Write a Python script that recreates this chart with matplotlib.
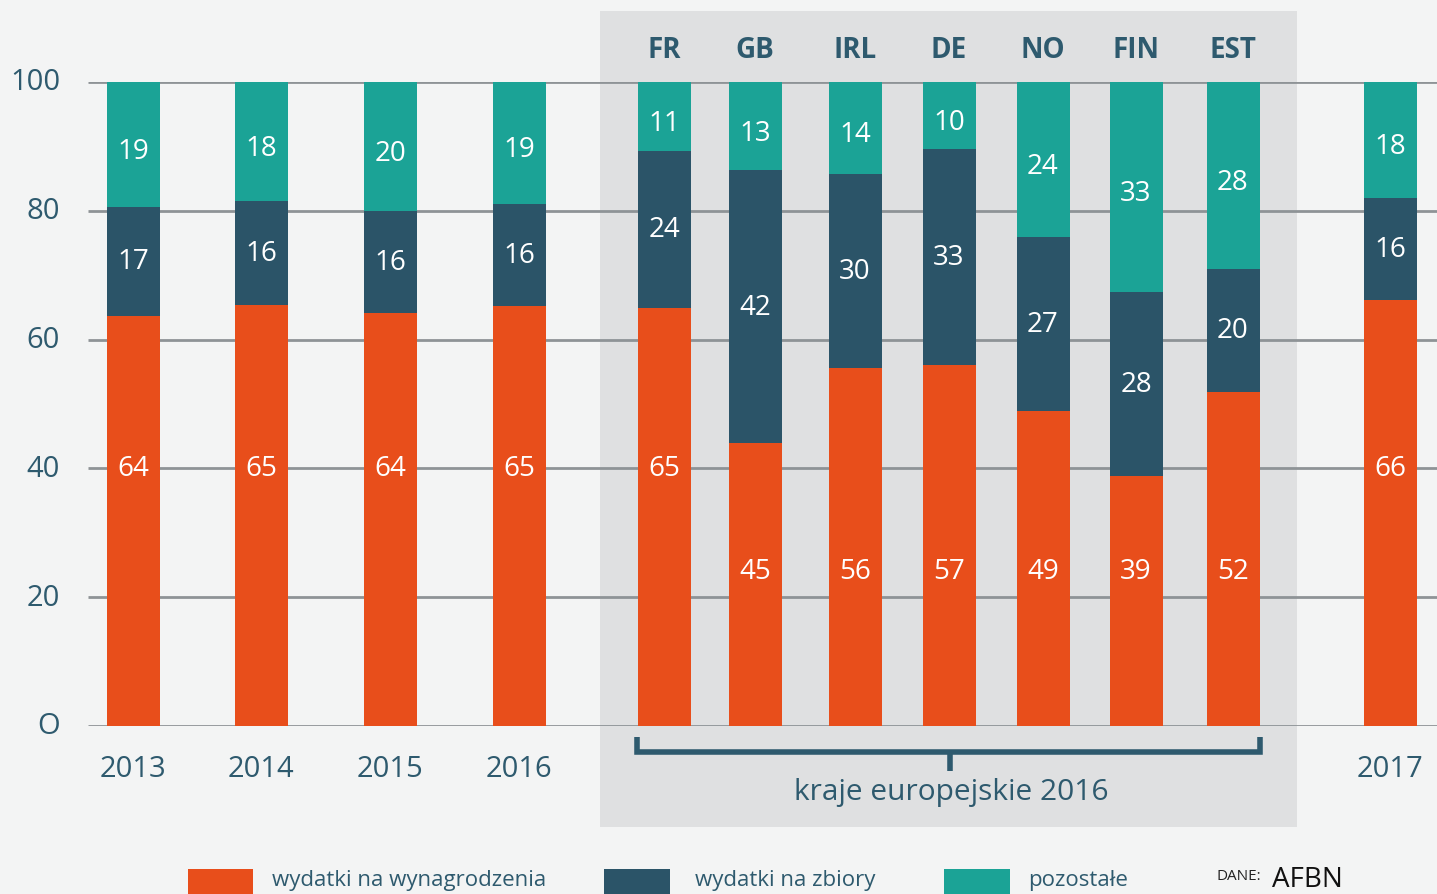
import matplotlib
matplotlib.use("Agg")
import matplotlib.pyplot as plt
from matplotlib.patches import Rectangle

# ---- data ----
categories = ["2013", "2014", "2015", "2016", "FR", "GB", "IRL", "DE", "NO", "FIN", "EST", "2017"]
# segment sizes as drawn in the picture (percent)
wynagrodzenia = [63.7, 65.4, 64.1, 65.2, 64.9, 43.9, 55.6, 56.1, 48.9, 38.8, 51.9, 66.1]
zbiory = [16.9, 16.1, 15.9, 15.9, 24.4, 42.4, 30.1, 33.5, 27.0, 28.6, 19.1, 15.9]
pozostale = [19.4, 18.5, 20.0, 18.9, 10.7, 13.7, 14.3, 10.4, 24.1, 32.6, 29.0, 18.0]
# values printed on the bars
wynagrodzenia_lab = [64, 65, 64, 65, 65, 45, 56, 57, 49, 39, 52, 66]
zbiory_lab = [17, 16, 16, 16, 24, 42, 30, 33, 27, 28, 20, 16]
pozostale_lab = [19, 18, 20, 19, 11, 13, 14, 10, 24, 33, 28, 18]
y_ticks = [0, 20, 40, 60, 80, 100]
y_tick_labels = ["O", "20", "40", "60", "80", "100"]
series_names = ["wydatki na wynagrodzenia", "wydatki na zbiory", "pozostałe"]

# ---- layout / style ----
W, H = 1437, 895
xpos = [133, 261, 390, 519, 664, 755, 855, 949, 1043, 1136, 1233, 1390]
bar_w = 53
C_OR = "#E84E1B"
C_DK = "#2B5468"
C_TL = "#1BA396"
C_TXT = "#2E5A6E"
FONT = ["Open Sans", "DejaVu Sans"]
plt.rcParams["font.family"] = FONT

fig = plt.figure(figsize=(W / 100, H / 100), dpi=100)
fig.patch.set_facecolor("#F3F4F4")

# background decoration axes (pixel coordinates)
bg = fig.add_axes([0, 0, 1, 1], zorder=0)
bg.set_xlim(0, W)
bg.set_ylim(H, 0)
bg.axis("off")
bg.add_patch(Rectangle((600, 12), 697, 816, facecolor="#DFE0E1", edgecolor="none"))

# main axes
y0px, y100px = 727, 83
ax = fig.add_axes([0, (H - y0px) / H, 1, (y0px - y100px) / H], zorder=1)
ax.set_facecolor("none")
ax.set_xlim(0, W)
ax.set_ylim(0, 100)
for s in ax.spines.values():
    s.set_visible(False)
ax.set_xticks([])
ax.set_yticks([])

for t, lab in zip(y_ticks, y_tick_labels):
    ax.plot([88, W], [t, t], color="#8E9396", lw=2, zorder=1, solid_capstyle="butt")
    ax.text(60, t, lab, ha="right", va="center", fontsize=21, color=C_TXT)

bottoms2 = wynagrodzenia
bottoms3 = [a + b for a, b in zip(wynagrodzenia, zbiory)]
ax.bar(xpos, wynagrodzenia, width=bar_w, color=C_OR, zorder=2)
ax.bar(xpos, zbiory, bottom=bottoms2, width=bar_w, color=C_DK, zorder=2)
ax.bar(xpos, pozostale, bottom=bottoms3, width=bar_w, color=C_TL, zorder=2)

lab_kw = dict(ha="center", va="center", color="white", fontsize=20, zorder=3)
for i, x in enumerate(xpos):
    yo = 40 if wynagrodzenia[i] >= 60 else 24
    ax.text(x, yo, str(wynagrodzenia_lab[i]), **lab_kw)
    ax.text(x, bottoms2[i] + zbiory[i] / 2, str(zbiory_lab[i]), **lab_kw)
    ax.text(x, bottoms3[i] + pozostale[i] / 2 - 1, str(pozostale_lab[i]), **lab_kw)

# category labels
for i, (x, c) in enumerate(zip(xpos, categories)):
    if c.isdigit():
        bg.text(x, 770, c, ha="center", va="center", fontsize=21, color=C_TXT)
    else:
        bg.text(x, 50, c, ha="center", va="center", fontsize=20, fontweight="bold", color=C_TXT)

# bracket
bg.plot([637, 637, 1260, 1260], [738, 753, 753, 738], color=C_TXT, lw=4,
        solid_joinstyle="miter", solid_capstyle="butt")
bg.plot([950, 950], [753, 772], color=C_TXT, lw=4, solid_capstyle="butt")
bg.text(951, 793, "kraje europejskie 2016", ha="center", va="center", fontsize=21.5, color=C_TXT)

# legend
for (x0, x1, tx), col, name in zip([(188, 253, 272), (604, 670, 695), (944, 1010, 1028)],
                                   [C_OR, C_DK, C_TL], series_names):
    bg.add_patch(Rectangle((x0, 870), x1 - x0, 30, facecolor=col, edgecolor="none"))
    bg.text(tx, 881, name, ha="left", va="center", fontsize=16, color=C_TXT)
bg.text(1217, 877, "DANE:", ha="left", va="center", fontsize=11, color="#222222")
bg.text(1272, 880, "AFBN", ha="left", va="center", fontsize=20, color="#111111")

fig.savefig("out.png", dpi=100, facecolor=fig.get_facecolor())
